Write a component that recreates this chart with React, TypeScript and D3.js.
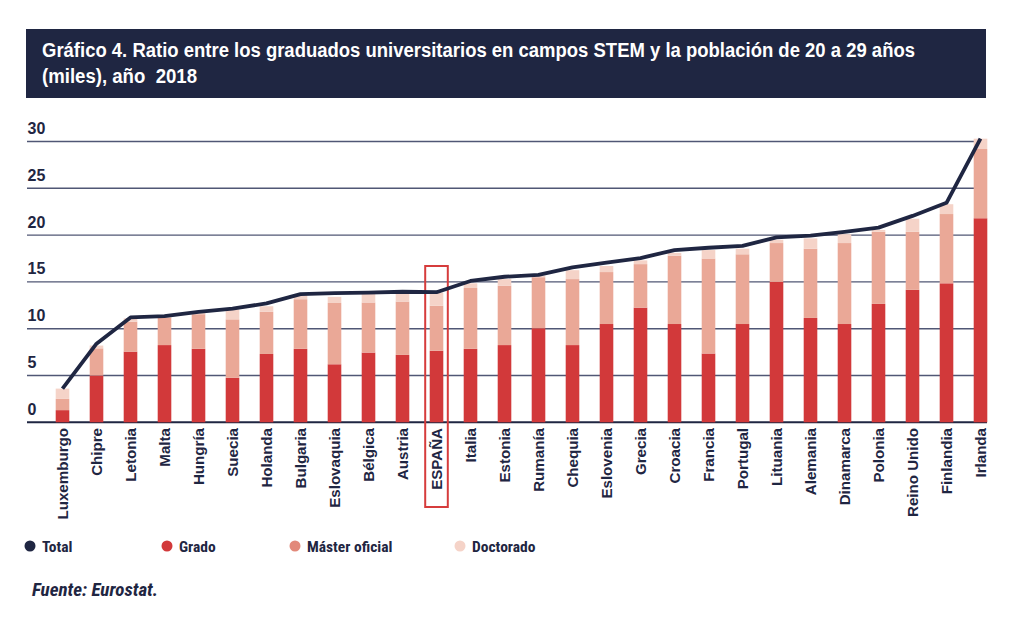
import { useEffect, useRef } from "react";
import * as d3 from "d3";

const countries = [
  "Luxemburgo", "Chipre", "Letonia", "Malta", "Hungría", "Suecia", "Holanda",
  "Bulgaria", "Eslovaquia", "Bélgica", "Austria", "ESPAÑA", "Italia", "Estonia",
  "Rumanía", "Chequia", "Eslovenia", "Grecia", "Croacia", "Francia", "Portugal",
  "Lituania", "Alemania", "Dinamarca", "Polonia", "Reino Unido", "Finlandia", "Irlanda",
];
const grado = [
  1.3, 5.0, 7.55, 8.25, 7.85, 4.75, 7.3, 7.85, 6.2, 7.45, 7.2, 7.65, 7.85, 8.25,
  10.05, 8.25, 10.5, 12.25, 10.5, 7.35, 10.5, 15.0, 11.15, 10.5, 12.65, 14.15, 14.85, 21.8,
];
const master = [
  1.2, 2.9, 3.2, 2.95, 3.7, 6.25, 4.5, 5.3, 6.55, 5.35, 5.7, 4.8, 6.5, 6.35,
  5.45, 7.05, 5.55, 4.65, 7.3, 10.15, 7.45, 4.15, 7.4, 8.65, 7.7, 6.2, 7.4, 7.4,
];
const doctorado = [
  1.1, 0.3, 0.35, 0.1, 0.2, 1.05, 0.6, 0.4, 0.65, 0.9, 0.9, 1.4, 0.5, 0.7,
  0.15, 0.95, 0.65, 0.4, 0.3, 0.9, 0.6, 0.35, 1.1, 0.95, 0.2, 1.4, 1.05, 1.1,
];
const total = [
  3.6, 8.4, 11.2, 11.35, 11.8, 12.15, 12.7, 13.7, 13.8, 13.85, 13.95, 13.9, 15.1, 15.55,
  15.75, 16.55, 17.05, 17.55, 18.4, 18.65, 18.85, 19.75, 19.95, 20.35, 20.8, 22.05, 23.45, 30.3,
];
const yTicks = [0, 5, 10, 15, 20, 25, 30];
const titleLines = [
  "Gráfico 4. Ratio entre los graduados universitarios en campos STEM y la población de 20 a 29 años",
  "(miles), año  2018",
];
const legendItems = ["Total", "Grado", "Máster oficial", "Doctorado"];
const highlight = "ESPAÑA";

const NAVY = "#1f2642";
const colors = ["#d2393a", "#eaa897", "#f5d3c8"];
const legendColors = [NAVY, "#d2393a", "#e2897a", "#f5d3c8"];
const NARROW = "'Liberation Sans Narrow', 'Arial Narrow', 'Roboto Condensed', 'Liberation Sans', Arial, sans-serif";
const SANS = "'Liberation Sans', Arial, Helvetica, sans-serif";

export default function App() {
  const ref = useRef<SVGSVGElement>(null);

  useEffect(() => {
    if (!ref.current) return;
    const svg = d3.select(ref.current);
    svg.selectAll("*").remove();

    // title box
    svg.append("rect")
      .attr("x", 26).attr("y", 29).attr("width", 960).attr("height", 69)
      .attr("fill", NAVY);
    svg.selectAll(".title")
      .data(titleLines)
      .enter()
      .append("text")
      .attr("x", 42)
      .attr("y", (_, i) => 57 + i * 26)
      .attr("fill", "#fff")
      .attr("font-family", SANS)
      .attr("font-weight", "bold")
      .attr("font-size", "20px")
      .attr("textLength", (_, i) => (i === 0 ? 873 : 155))
      .attr("lengthAdjust", "spacingAndGlyphs")
      .style("white-space", "pre")
      .text(d => d);

    const x = d3.scaleBand()
      .domain(countries)
      .range([45.5, 997.5])
      .paddingInner(0.6)
      .paddingOuter(0.3);
    const y = d3.scaleLinear().domain([0, 30]).range([422.3, 141.5]);

    // gridlines + labels
    const grid = svg.append("g");
    grid.selectAll("line")
      .data(yTicks)
      .enter()
      .append("line")
      .attr("x1", 27).attr("x2", 987)
      .attr("y1", d => y(d)).attr("y2", d => y(d))
      .attr("stroke", d => (d === 0 ? NAVY : "#505775"))
      .attr("stroke-width", d => (d === 0 ? 2 : 1.4));
    grid.selectAll("text")
      .data(yTicks)
      .enter()
      .append("text")
      .attr("x", 27.5)
      .attr("y", d => y(d) - 7.5)
      .attr("fill", NAVY)
      .attr("font-family", SANS)
      .attr("font-weight", "bold")
      .attr("font-size", "16px")
      .text(d => d);

    // stacked bars
    const rows = countries.map((c, i) => ({ c, grado: grado[i], master: master[i], doctorado: doctorado[i] }));
    const stack = d3.stack<any>().keys(["grado", "master", "doctorado"])(rows);
    svg.append("g")
      .selectAll("g")
      .data(stack)
      .enter()
      .append("g")
      .attr("fill", (_, i) => colors[i])
      .selectAll("rect")
      .data(d => d)
      .enter()
      .append("rect")
      .attr("x", d => x(d.data.c) || 0)
      .attr("width", x.bandwidth())
      .attr("y", d => y(d[1]))
      .attr("height", d => y(d[0]) - y(d[1]));

    // highlight box around Spain
    svg.append("rect")
      .attr("x", (x(highlight) || 0) - 4.5)
      .attr("y", 266)
      .attr("width", x.bandwidth() + 9)
      .attr("height", 241)
      .attr("fill", "none")
      .attr("stroke", "#d63c3c")
      .attr("stroke-width", 2);

    // total line
    const line = d3.line<number>()
      .x((_, i) => (x(countries[i]) || 0) + x.bandwidth() / 2)
      .y(d => y(d));
    svg.append("path")
      .datum(total)
      .attr("d", line)
      .attr("fill", "none")
      .attr("stroke", NAVY)
      .attr("stroke-width", 3.8)
      .attr("stroke-linejoin", "round");

    // country labels
    svg.append("g")
      .selectAll("text")
      .data(countries)
      .enter()
      .append("text")
      .attr("transform", d => `translate(${(x(d) || 0) + x.bandwidth() / 2 + 5},428) rotate(-90) scale(1.08,1)`)
      .attr("text-anchor", "end")
      .attr("fill", NAVY)
      .attr("font-family", SANS)
      .attr("font-weight", "bold")
      .attr("font-size", "14px")
      .text(d => d);

    // legend
    const legendX = [30, 167, 295, 460];
    const lg = svg.append("g");
    legendItems.forEach((name, i) => {
      lg.append("circle")
        .attr("cx", legendX[i]).attr("cy", 546)
        .attr("r", 5.5)
        .attr("fill", legendColors[i]);
      lg.append("text")
        .attr("x", legendX[i] + 12).attr("y", 551.5)
        .attr("fill", NAVY)
        .attr("font-family", NARROW)
        .attr("font-weight", "bold")
        .attr("font-size", "15.5px")
        .text(name);
    });

    svg.append("text")
      .attr("x", 32).attr("y", 596)
      .attr("fill", NAVY)
      .attr("font-family", NARROW)
      .attr("font-weight", "bold")
      .attr("font-style", "italic")
      .attr("font-size", "19px")
      .text("Fuente: Eurostat.");
  }, []);

  return (
    <svg
      ref={ref}
      width={1015}
      height={633}
      style={{ position: "absolute", left: 0, top: 0, background: "#fff" }}
    />
  );
}
